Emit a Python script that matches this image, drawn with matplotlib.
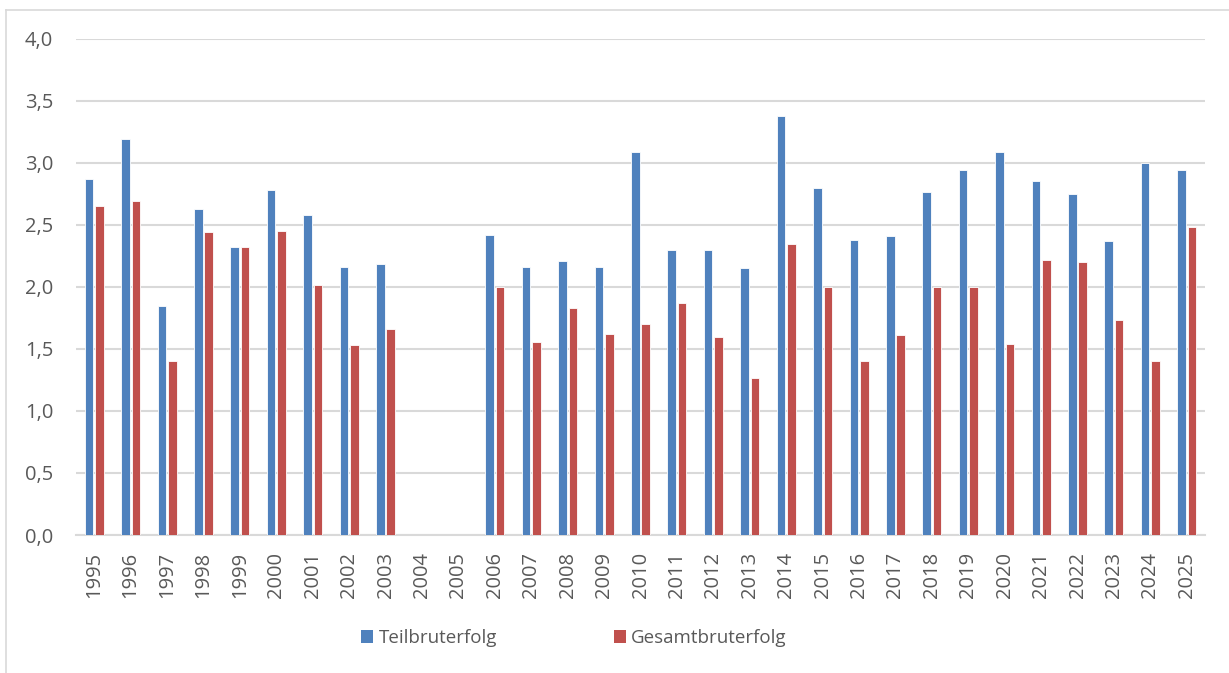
import numpy as np
import matplotlib
matplotlib.use("Agg")
import matplotlib.pyplot as plt
from matplotlib.lines import Line2D
from matplotlib.patches import Patch

years = [str(y) for y in range(1995, 2026)]
teil = [2.87, 3.19, 1.85, 2.63, 2.32, 2.78, 2.58, 2.16, 2.185, np.nan, np.nan,
        2.42, 2.16, 2.21, 2.16, 3.09, 2.30, 2.30, 2.15, 3.38, 2.80,
        2.38, 2.41, 2.77, 2.94, 3.09, 2.855, 2.75, 2.37, 3.00, 2.94]
gesamt = [2.65, 2.69, 1.40, 2.44, 2.32, 2.45, 2.02, 1.53, 1.66, np.nan, np.nan,
          2.00, 1.56, 1.83, 1.62, 1.70, 1.87, 1.60, 1.27, 2.35, 2.00,
          1.40, 1.61, 2.00, 2.00, 1.54, 2.22, 2.20, 1.73, 1.40, 2.48]
yticks = [0.0, 0.5, 1.0, 1.5, 2.0, 2.5, 3.0, 3.5, 4.0]
ytick_labels = ["0,0", "0,5", "1,0", "1,5", "2,0", "2,5", "3,0", "3,5", "4,0"]
series_names = ["Teilbruterfolg", "Gesamtbruterfolg"]

plt.rcParams['font.family'] = ['Open Sans', 'DejaVu Sans']
W, H = 1229, 673
fig = plt.figure(figsize=(W / 100, H / 100), dpi=100)
ax = fig.add_axes([76 / W, 1 - 535 / H, (1205 - 76) / W, (535 - 39) / H])

blue = "#4F81BD"
red = "#C0504D"
grey_text = "#595959"
grid_c = "#D9D9D9"

x = np.arange(len(years))
bw = 0.235
off = 0.143
ax.bar(x - off, teil, width=bw, color=blue, edgecolor="white", linewidth=0.6, zorder=3)
ax.bar(x + off, gesamt, width=bw, color=red, edgecolor="white", linewidth=0.6, zorder=3)

ax.set_xlim(-0.5, len(years) - 0.5)
ax.set_ylim(0, 4.0)
ax.set_yticks(yticks)
ax.set_yticklabels(ytick_labels)
ax.set_xticks(x)
ax.set_xticklabels(years, rotation=90)
ax.tick_params(axis='both', length=0, labelsize=14.5, colors=grey_text)
ax.tick_params(axis='y', pad=16.5)
ax.tick_params(axis='x', pad=12)
ax.yaxis.grid(True, color=grid_c, linewidth=1.5, zorder=0)
ax.set_axisbelow(True)
for s in ["top", "right", "left"]:
    ax.spines[s].set_visible(False)
ax.spines["bottom"].set_color(grid_c)
ax.spines["bottom"].set_linewidth(1.5)

handles = [Patch(facecolor=blue, edgecolor="none"), Patch(facecolor=red, edgecolor="none")]
fig.legend(handles, series_names, loc="center", bbox_to_anchor=(574 / W, 1 - 638 / H),
           ncol=2, frameon=False, fontsize=13.5, labelcolor=grey_text,
           handlelength=0.65, handleheight=0.65, handletextpad=0.3, columnspacing=6.2)

# outer chart border (left and top visible)
fig.add_artist(Line2D([6 / W, 6 / W], [0, 1 - 10 / H], transform=fig.transFigure, color=grid_c, linewidth=1.2))
fig.add_artist(Line2D([6 / W, 1], [1 - 10 / H, 1 - 10 / H], transform=fig.transFigure, color=grid_c, linewidth=1.2))

fig.savefig("out.png", dpi=100, facecolor="white")
